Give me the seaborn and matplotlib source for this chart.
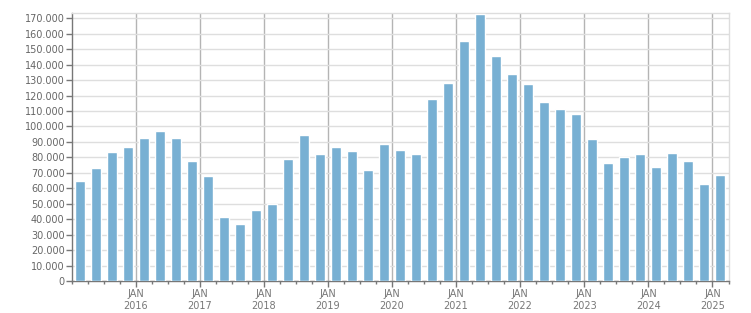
import matplotlib
matplotlib.use("Agg")
import matplotlib.pyplot as plt
import seaborn as sns
import pandas as pd
from matplotlib.ticker import FixedLocator, FuncFormatter, MultipleLocator

quarters = [f"{y} Q{q}" for y in range(2015, 2026) for q in range(1, 5)][:41]
values = [
    65000, 73200, 83500, 86800, 92600, 97100, 92600, 77700, 68000, 41500, 37000, 46000,
    49900, 79000, 94600, 82300, 86800, 84200, 71900, 88700, 84800, 82300, 118000, 128200,
    155400, 172900, 145700, 134100, 127600, 115900, 111400, 108200, 92000, 76400, 80300,
    82300, 73800, 82900, 77700, 62800, 68700,
]
year_labels = ["2016", "2017", "2018", "2019", "2020", "2021", "2022", "2023", "2024", "2025"]

df = pd.DataFrame({"quarter": quarters, "value": values})

sns.set_theme(style="white")
plt.rcParams['font.family'] = ['DejaVu Sans']

fig = plt.figure(figsize=(7.51, 3.13), dpi=100)
ax = fig.add_axes([71.5 / 751, 1 - 281 / 313, (728.5 - 71.5) / 751, (281 - 13.3) / 313])

sns.barplot(data=df, x="quarter", y="value", color="#78b0d3", saturation=1,
            width=0.625, ax=ax, zorder=3)

n = len(values)
ax.set_xlim(-0.5, n - 0.5)
ax.set_ylim(0, 173200)

major_pos = [3.5 + 4 * i for i in range(len(year_labels))]
ax.xaxis.set_major_locator(FixedLocator(major_pos))
ax.xaxis.set_minor_locator(FixedLocator([i - 0.5 for i in range(n + 1)]))
ax.set_xticklabels(["JAN\n" + y for y in year_labels])
ax.yaxis.set_major_locator(MultipleLocator(10000))
ax.yaxis.set_major_formatter(FuncFormatter(lambda v, p: f"{int(v):,}".replace(",", ".")))

ax.grid(axis="y", color="#dedede", linewidth=1, zorder=0)
ax.grid(axis="x", which="major", color="#b4b4b4", linewidth=1, zorder=1)
ax.set_axisbelow(True)

ax.tick_params(axis="y", which="major", length=4, width=1, color="#777777",
               labelsize=7, labelcolor="#666666", pad=1, left=True)
ax.tick_params(axis="x", which="major", length=4, width=1, color="#777777",
               labelsize=7, labelcolor="#777777", pad=1.5, bottom=True)
ax.tick_params(axis="x", which="minor", length=2.5, width=1, color="#777777", bottom=True)
for lab in ax.get_xticklabels():
    lab.set_linespacing(1.3)

ax.set_xlabel("")
ax.set_ylabel("")
ax.spines["left"].set_color("#777777")
ax.spines["bottom"].set_color("#777777")
ax.spines["top"].set_color("#dddddd")
ax.spines["right"].set_color("#dddddd")
for s in ax.spines.values():
    s.set_linewidth(1)
    s.set_visible(True)

fig.savefig("out.png", dpi=100, facecolor="white")
